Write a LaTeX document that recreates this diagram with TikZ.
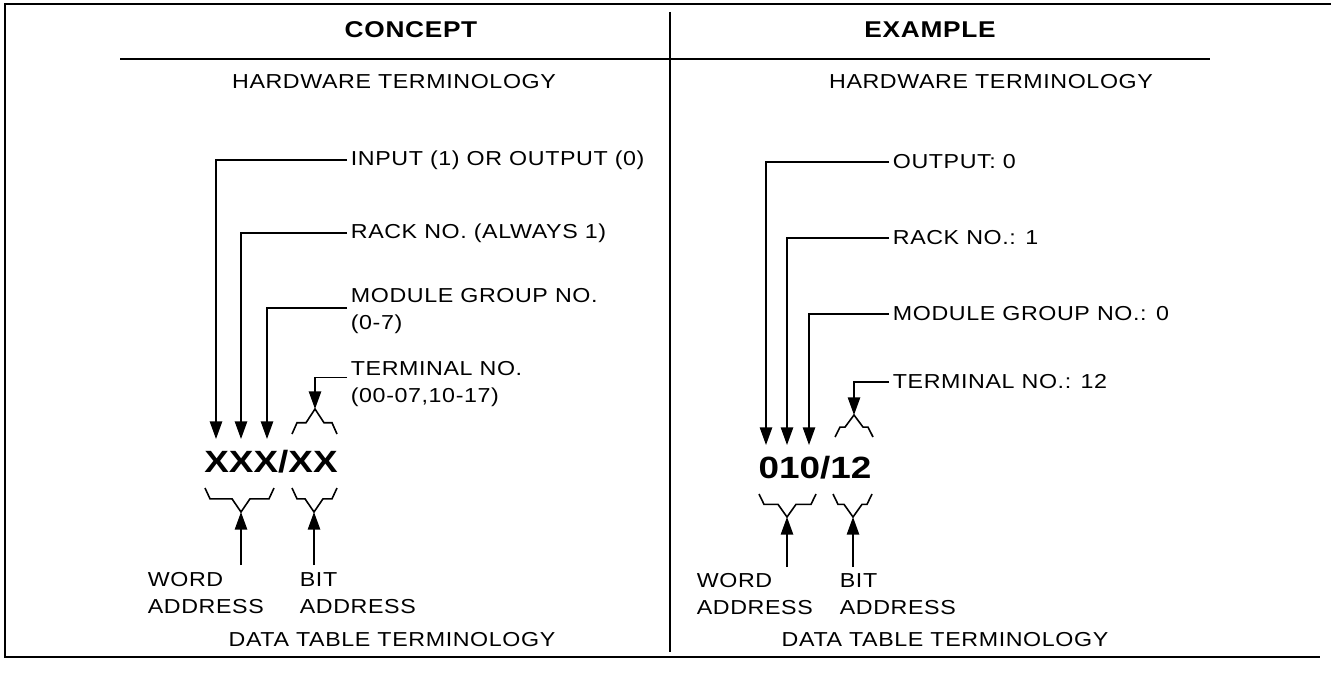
\documentclass[tikz,border=0pt]{standalone}
\usepackage{fontspec}
\setmainfont{Liberation Sans}
\newfontfamily\lblfont[FakeStretch=1.15,LetterSpace=3]{Liberation Sans}
\newfontfamily\bigfont[FakeStretch=1.2]{Liberation Sans}
\usetikzlibrary{arrows.meta, positioning}

% brace: left x, apex x, right x, y of the ends, apex offset
\newcommand{\addrbrace}[5]{%
  \draw[brace] (#1,#4) -- ({#1+5},{#4+0.45*(#5)}) -- ({#2-9},{#4+0.45*(#5)}) -- ({#2},{#4+(#5)})
    -- ({#2+9},{#4+0.45*(#5)}) -- ({#3-5},{#4+0.45*(#5)}) -- (#3,#4);}

\begin{document}
\begin{tikzpicture}[
    x=0.02cm, y=-0.02cm,
    lbl/.style={inner xsep=2pt, inner ysep=0pt, align=left, font=\lblfont\fontsize{11.5}{15.5}\selectfont},
    head/.style={inner sep=0pt, font=\lblfont\bfseries\fontsize{13}{15}\selectfont},
    addr/.style={inner sep=0pt, font=\bigfont\bfseries\fontsize{17.5}{20}\selectfont},
    arrow/.style={-{Triangle[length=10pt,width=7pt]}, line width=0.9pt},
    rule/.style={line width=1.4pt},
    brace/.style={line width=0.9pt, line join=miter}
  ]
  \useasboundingbox (0,0) rectangle (1331,679);

  % frame
  \draw[rule] (1331,4) -- (5,4) -- (5,657) -- (1320,657);
  \draw[rule] (120,59) -- (1210,59);
  \draw[line width=1pt] (670,12) -- (670,652);

  % headings
  \node[head, anchor=base] (concept) at (411,38) {CONCEPT};
  \node[head, anchor=base] (example) at (930,38) {EXAMPLE};
  \node[lbl, anchor=base] (hwl) at (394,89) {HARDWARE TERMINOLOGY};
  \node[lbl, anchor=base] (hwr) at (991,89) {HARDWARE TERMINOLOGY};
  \node[lbl, anchor=base] (dtl) at (392,646) {DATA TABLE TERMINOLOGY};
  \node[lbl, anchor=base] (dtr) at (945,646) {DATA TABLE TERMINOLOGY};

  % concept
  \node[addr] (xcode) at (271,462) {XXX/XX};
  \coordinate (xin) at (216,439);
  \coordinate (xrack) at (241,439);
  \coordinate (xmod) at (267,439);
  \coordinate (xterm) at (315,409);
  \coordinate (xword) at (241,512);
  \coordinate (xbit) at (314,512);
  \coordinate (xwordt) at (241,565);
  \coordinate (xbitt) at (314,565);

  \node[lbl, anchor=west] (xinl) at (347,160) {INPUT (1) OR OUTPUT (0)};
  \node[lbl, anchor=west] (xrackl) at (347,233) {RACK NO. (ALWAYS 1)};
  \node[lbl, anchor=west] (xmodl) at (347,311) {MODULE GROUP NO.\\(0-7)};
  \node[lbl, anchor=west] (xterml) at (347,384) {TERMINAL NO.\\(00-07,10-17)};
  \node[lbl, anchor=north west] (xwordl) at (144,572) {WORD\\ADDRESS};
  \node[lbl, anchor=north west] (xbitl) at (296,572) {BIT\\ADDRESS};

  \draw[arrow] (xinl.west) -| (xin);
  \draw[arrow] (xrackl.west) -| (xrack);
  \draw[arrow] ([yshift=0.06cm]xmodl.west) -| (xmod);
  \draw[arrow] ([yshift=0.13cm]xterml.west) -| (xterm);
  \draw[arrow] (xwordt) -- (xword);
  \draw[arrow] (xbitt) -- (xbit);

  \addrbrace{292}{315}{337}{434}{-25}
  \addrbrace{205}{241}{274}{488}{24}
  \addrbrace{292}{314}{337}{488}{24}

  % example
  \node[addr] (ecode) at (815,468) {010/12};
  \coordinate (eout) at (766,445);
  \coordinate (erack) at (787,445);
  \coordinate (emod) at (809,445);
  \coordinate (eterm) at (854,415);
  \coordinate (eword) at (787,517);
  \coordinate (ebit) at (853,517);
  \coordinate (ewordt) at (787,567);
  \coordinate (ebitt) at (853,567);

  \node[lbl, anchor=west] (eoutl) at (889,162) {OUTPUT: 0};
  \node[lbl, anchor=west] (erackl) at (889,238) {RACK NO.: 1};
  \node[lbl, anchor=west] (emodl) at (889,314) {MODULE GROUP NO.: 0};
  \node[lbl, anchor=west] (eterml) at (889,382) {TERMINAL NO.: 12};
  \node[lbl, anchor=north west] (ewordl) at (693,573) {WORD\\ADDRESS};
  \node[lbl, anchor=north west] (ebitl) at (836,573) {BIT\\ADDRESS};

  \draw[arrow] (eoutl.west) -| (eout);
  \draw[arrow] (erackl.west) -| (erack);
  \draw[arrow] (emodl.west) -| (emod);
  \draw[arrow] (eterml.west) -| (eterm);
  \draw[arrow] (ewordt) -- (eword);
  \draw[arrow] (ebitt) -- (ebit);

  \addrbrace{835}{854}{873}{437}{-22}
  \addrbrace{759}{787}{816}{494}{23}
  \addrbrace{833}{853}{872}{494}{23}
\end{tikzpicture}
\end{document}
